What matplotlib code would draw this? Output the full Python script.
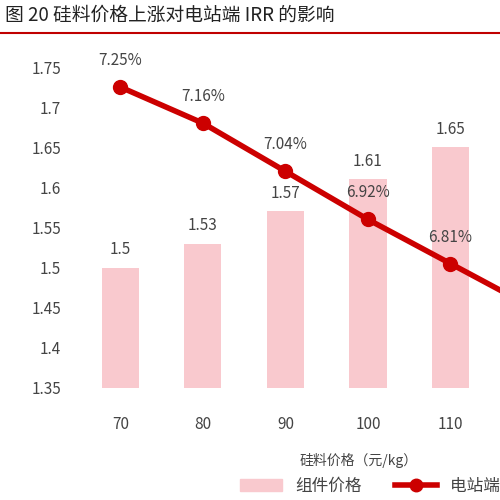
import matplotlib.pyplot as plt
from matplotlib.lines import Line2D
from matplotlib.patches import Patch

plt.rcParams['font.family'] = ['Noto Sans CJK SC', 'DejaVu Sans']

prices = ["70", "80", "90", "100", "110", "120"]
module_price = [1.50, 1.53, 1.57, 1.61, 1.65, 1.69]
irr = [7.25, 7.16, 7.04, 6.92, 6.81, 6.70]
irr_labels = ["7.25%", "7.16%", "7.04%", "6.92%", "6.81%", "6.70%"]

fig = plt.figure(figsize=(5, 5), dpi=100)
fig.text(0.01, 0.97, "图 20 硅料价格上涨对电站端 IRR 的影响", fontsize=13.5,
         va="center", ha="left", color="#222222")
fig.add_artist(Line2D([0, 1], [0.934, 0.934], color="#c00000", lw=1.5))

ax = fig.add_axes([0.15, 0.224, 0.85, 0.642])
x = list(range(len(prices)))
ax.bar(x, module_price, width=0.45, color="#f9c9ce")
# the 120 column falls outside the visible area, so only the first five get labels
for i, v in enumerate(module_price[:5]):
    ax.text(i, v + 0.012, f"{v:g}", ha="center", va="bottom", fontsize=11, color="#444444")
ax.set_ylim(1.35, 1.75)
ax.set_xlim(-0.55, 4.6)
ax.set_yticks([1.35, 1.4, 1.45, 1.5, 1.55, 1.6, 1.65, 1.7, 1.75])
ax.set_yticklabels(["1.35", "1.4", "1.45", "1.5", "1.55", "1.6", "1.65", "1.7", "1.75"])
ax.set_xticks(x[:5])
ax.set_xticklabels(prices[:5])
ax.tick_params(length=0, labelsize=11, labelcolor="#444444", pad=10)
ax.tick_params(axis="x", pad=20)
for s in ax.spines.values():
    s.set_visible(False)

ax2 = ax.twinx()
ax2.plot(x, irr, color="#cc0000", lw=4, marker="o", ms=10)
ax2.set_ylim(6.5, 7.3)
ax2.set_yticks([])
for s in ax2.spines.values():
    s.set_visible(False)
for i, (v, t) in enumerate(zip(irr[:5], irr_labels[:5])):
    ax2.text(i, v + 0.045, t, ha="center", va="bottom", fontsize=11, color="#444444")

fig.text(0.6, 0.07, "硅料价格（元/kg）", fontsize=10, color="#444444")
fig.legend(handles=[Patch(color="#f9c9ce", label="组件价格"),
                    Line2D([], [], color="#cc0000", lw=4, marker="o", ms=9, label="电站端 IRR")],
           loc="center left", bbox_to_anchor=(0.45, 0.027), ncol=2, frameon=False,
           fontsize=12, handlelength=2.5, columnspacing=2, labelcolor="#444444")

fig.savefig("out.png")
